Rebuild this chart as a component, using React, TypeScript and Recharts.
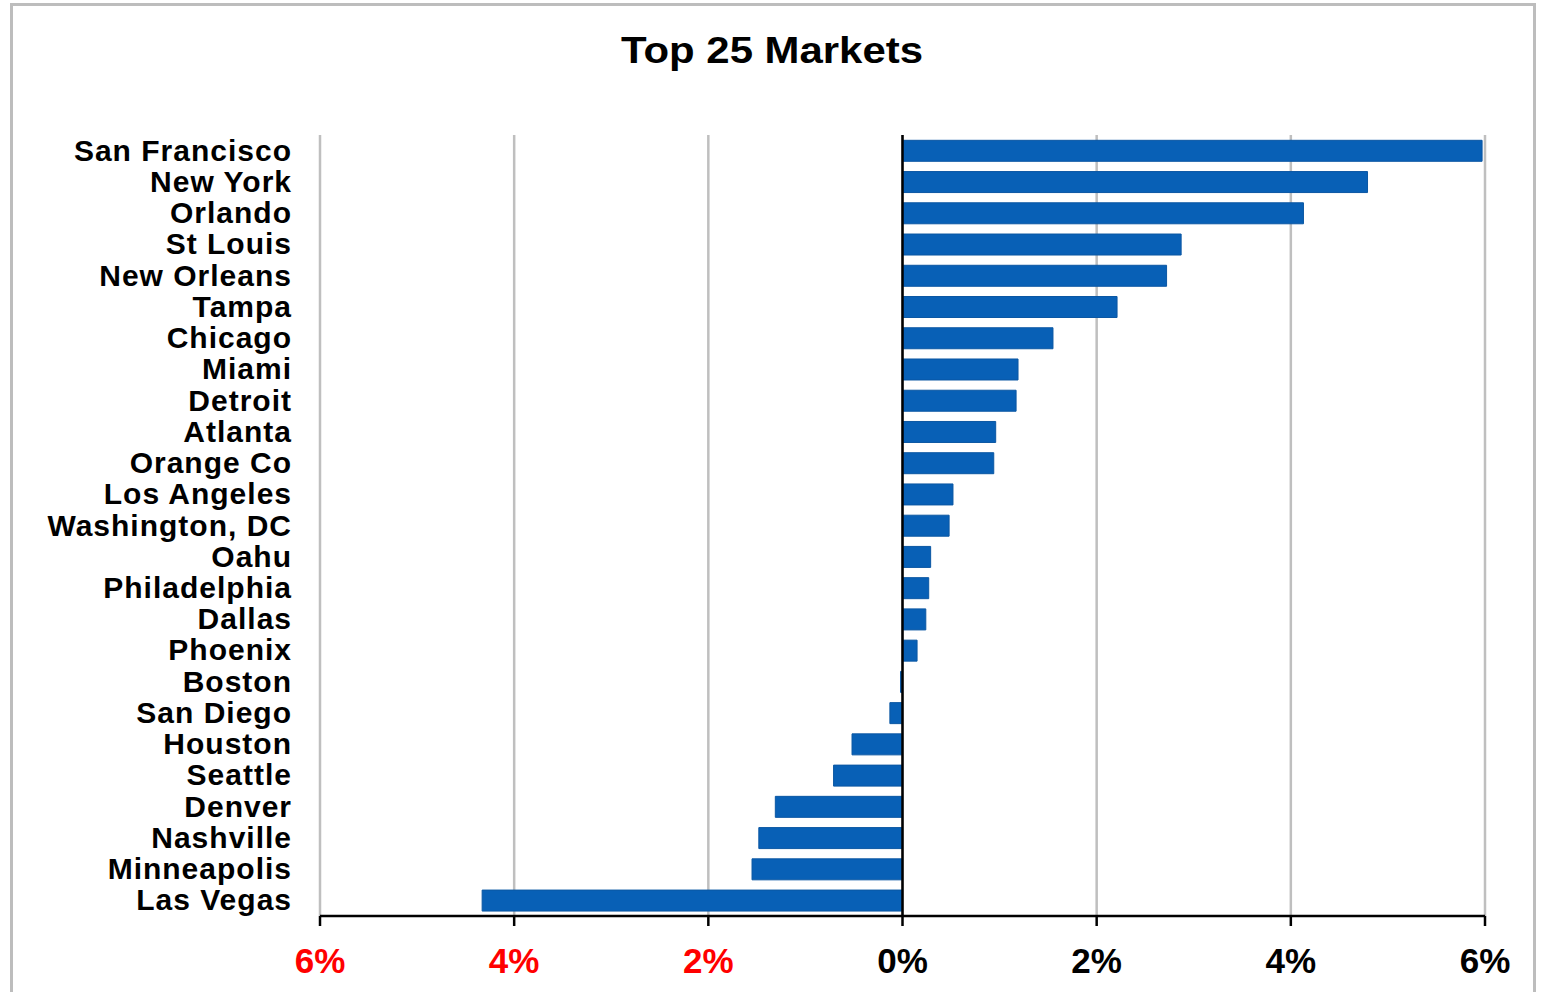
import React from 'react'
import {
  BarChart,
  Bar,
  XAxis,
  YAxis,
  CartesianGrid,
  ReferenceLine,
} from 'recharts'

const markets = [
  'San Francisco',
  'New York',
  'Orlando',
  'St Louis',
  'New Orleans',
  'Tampa',
  'Chicago',
  'Miami',
  'Detroit',
  'Atlanta',
  'Orange Co',
  'Los Angeles',
  'Washington, DC',
  'Oahu',
  'Philadelphia',
  'Dallas',
  'Phoenix',
  'Boston',
  'San Diego',
  'Houston',
  'Seattle',
  'Denver',
  'Nashville',
  'Minneapolis',
  'Las Vegas',
]

const changes = [
  5.97, 4.79, 4.13, 2.87, 2.72, 2.21, 1.55, 1.19, 1.17, 0.96, 0.94, 0.52, 0.48,
  0.29, 0.27, 0.24, 0.15, -0.02, -0.13, -0.52, -0.71, -1.31, -1.48, -1.55, -4.33,
]

const xTicks = [-6, -4, -2, 0, 2, 4, 6]

const COLORS = {
  bar: '#0860b6',
  grid: '#bfbfbf',
  axis: '#000000',
  negative: '#ff0000',
  frame: '#bdbdbd',
}

const FONT = '"Liberation Sans", Arial, sans-serif'

const data = markets.map((name, i) => ({ name, value: changes[i] }))

function XTick({ x, y, payload }: { x?: number; y?: number; payload?: { value: number } }) {
  const v = payload?.value ?? 0
  return (
    <text
      x={x}
      y={(y ?? 0) + 45}
      textAnchor="middle"
      fontFamily={FONT}
      fontWeight="bold"
      fontSize={35}
      fill={v < 0 ? COLORS.negative : COLORS.axis}
    >
      {`${Math.abs(v)}%`}
    </text>
  )
}

function YTick({ x, y, payload }: { x?: number; y?: number; payload?: { value: string } }) {
  return (
    <text
      x={x}
      y={y}
      dy={10}
      textAnchor="end"
      fontFamily={FONT}
      fontWeight="bold"
      fontSize={30}
      letterSpacing={1}
      fill="#000"
    >
      {payload?.value}
    </text>
  )
}

export default function App() {
  return (
    <div
      style={{
        position: 'absolute',
        left: 0,
        top: 0,
        width: 1547,
        height: 992,
        overflow: 'hidden',
        background: '#fff',
      }}
    >
      <div
        style={{
          position: 'absolute',
          left: 10,
          top: 3,
          width: 1520,
          height: 1000,
          border: `3px solid ${COLORS.frame}`,
        }}
      />
      <svg
        width={1547}
        height={100}
        style={{ position: 'absolute', left: 0, top: 0 }}
      >
        <text
          x={772}
          y={63}
          textAnchor="middle"
          fontFamily={FONT}
          fontWeight="bold"
          fontSize={36}
          textLength={302}
          lengthAdjust="spacingAndGlyphs"
        >
          Top 25 Markets
        </text>
      </svg>
      <div style={{ position: 'absolute', left: 0, top: 0 }}>
        <BarChart
          width={1547}
          height={992}
          data={data}
          layout="vertical"
          margin={{ top: 135, right: 62, bottom: 16, left: 0 }}
          barCategoryGap="17%"
        >
          <CartesianGrid
            vertical
            horizontal={false}
            stroke={COLORS.grid}
            strokeWidth={2.5}
          />
          <XAxis
            type="number"
            domain={[-6, 6]}
            ticks={xTicks}
            interval={0}
            height={60}
            axisLine={{ stroke: COLORS.axis, strokeWidth: 2.5 }}
            tickLine={{ stroke: COLORS.axis, strokeWidth: 2.5 }}
            tickSize={10}
            tick={<XTick />}
          />
          <YAxis
            type="category"
            dataKey="name"
            width={320}
            axisLine={false}
            tickLine={false}
            tickSize={0}
            tickMargin={28}
            interval={0}
            tick={<YTick />}
          />
          <Bar
            dataKey="value"
            fill={COLORS.bar}
            stroke="#0b57a3"
            strokeWidth={1}
            isAnimationActive={false}
          />
          <ReferenceLine x={0} stroke={COLORS.axis} strokeWidth={2.5} />
        </BarChart>
      </div>
    </div>
  )
}
